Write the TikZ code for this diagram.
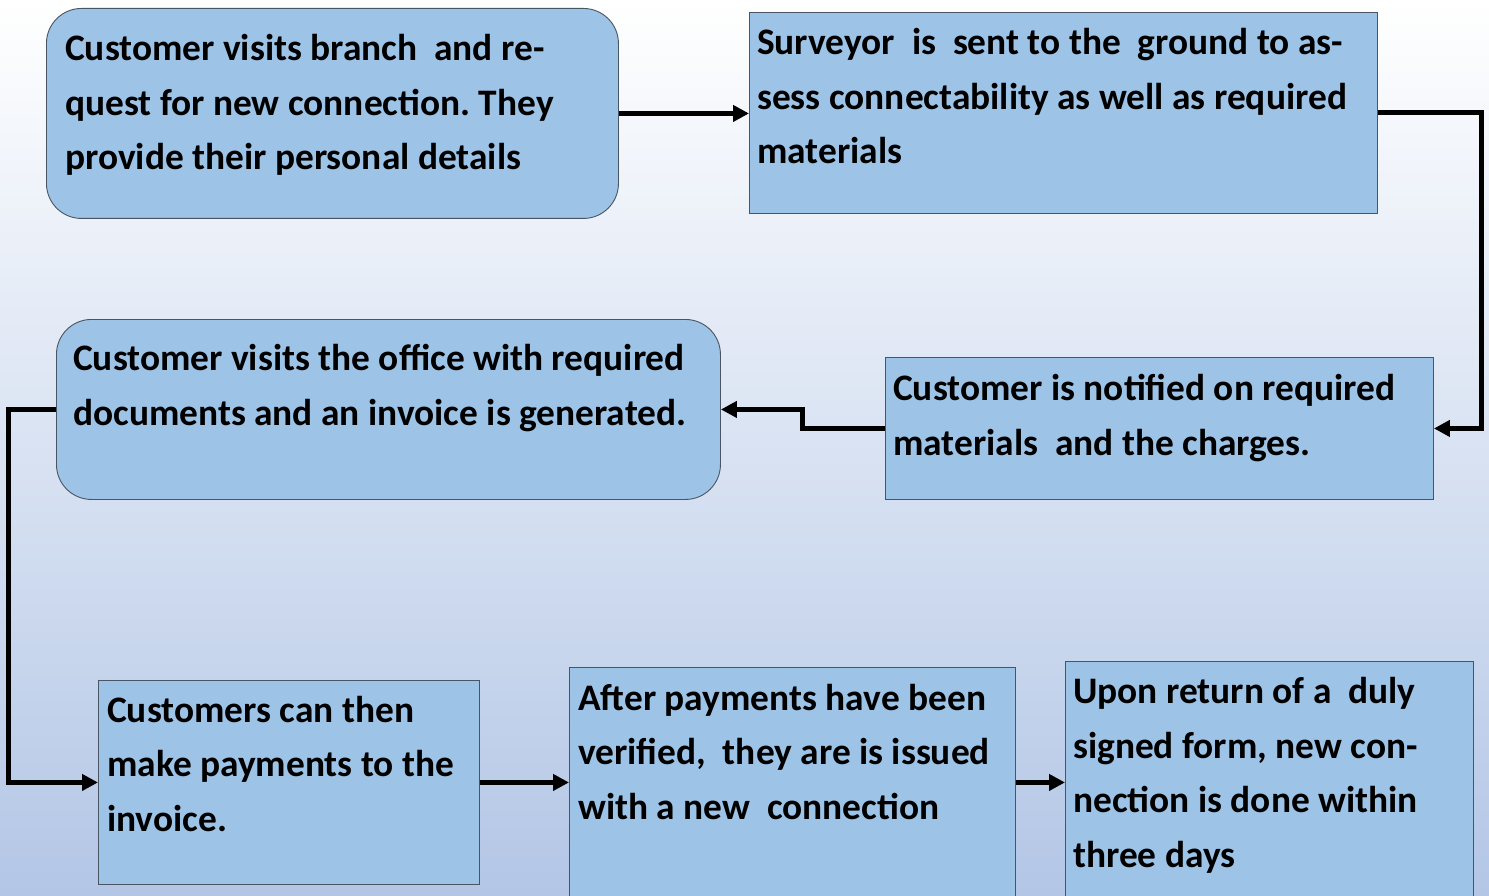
\documentclass[tikz,border=0pt]{standalone}
\usepackage{fontspec}
\usetikzlibrary{arrows.meta}
\newfontfamily\boxfont{Carlito}
\definecolor{boxblue}{HTML}{9DC3E6}
\definecolor{boxline}{HTML}{4A5563}
\definecolor{bgmid}{HTML}{F3F6FB}
\definecolor{bgblue}{HTML}{B3C6E6}
\frenchspacing

\tikzset{
  box/.style={draw=boxline, line width=0.9pt, fill=boxblue, anchor=north west, inner sep=0pt},
  roundbox/.style={box, rounded corners=35pt},
  txt/.style={anchor=base west, inner sep=0pt, align=left,
    font=\boxfont\bfseries\fontsize{37.4}{54.5}\selectfont},
  conn/.style={-{Triangle[length=16pt,width=16pt]}, line width=5pt}
}

\begin{document}
\begin{tikzpicture}[x=1pt, y=-1pt]
  % background
  \shade[top color=white, middle color=bgmid, bottom color=bgblue]
    (0,0) rectangle (1489,896);
  \useasboundingbox (0,0) rectangle (1489,896);

  % boxes
  \node[roundbox, minimum width=572pt, minimum height=210pt] (b1) at (46,8) {};
  \node[box, minimum width=628pt, minimum height=201pt] (b2) at (749,12) {};
  \node[box, minimum width=548pt, minimum height=142pt] (b3) at (885,357) {};
  \node[roundbox, minimum width=664pt, minimum height=180pt] (b4) at (56,319) {};
  \node[box, minimum width=381pt, minimum height=204pt] (b5) at (98,680) {};
  \node[box, minimum width=446pt, minimum height=236pt] (b6) at (569,667) {};
  \node[box, minimum width=408pt, minimum height=242pt] (b7) at (1065,661) {};

  % texts (anchored at the baseline of the last line)
  \node[txt] (t1) at (65,170) {Customer visits branch~ and re-\\quest for new connection. They\\provide their personal details};
  \node[txt] (t2) at (757,164) {Surveyor~ is~ sent to the~ ground to as-\\sess connectability as well as required\\materials};
  \node[txt] (t3) at (893,455) {Customer is notified on required\\materials~ and the charges.};
  \node[txt] (t4) at (73,425) {Customer visits the office with required\\documents and an invoice is generated.};
  \node[txt] (t5) at (107,831) {Customers can then\\make payments to the\\invoice.};
  \node[txt] (t6) at (578,819) {After payments have been\\verified,~ they are is issued\\with a new~ connection};
  \node[txt] (t7) at (1073,867) {Upon return of a~ duly\\signed form, new con-\\nection is done within\\three days};

  % connectors
  \draw[conn] (b1.east) -- (b1.east -| b2.west);
  \draw[conn] (b2.east) -- ++(104,0) |- (b3.east);
  \draw[conn] (b3.west) -- ++(-83,0) |- (b4.east);
  \draw[conn] (b4.west) -- ++(-48,0) |- (b5.west);
  \draw[conn] (b5.east) -- (b5.east -| b6.west);
  \draw[conn] (b6.east |- b5.east) -- (b5.east -| b7.west);
\end{tikzpicture}
\end{document}
